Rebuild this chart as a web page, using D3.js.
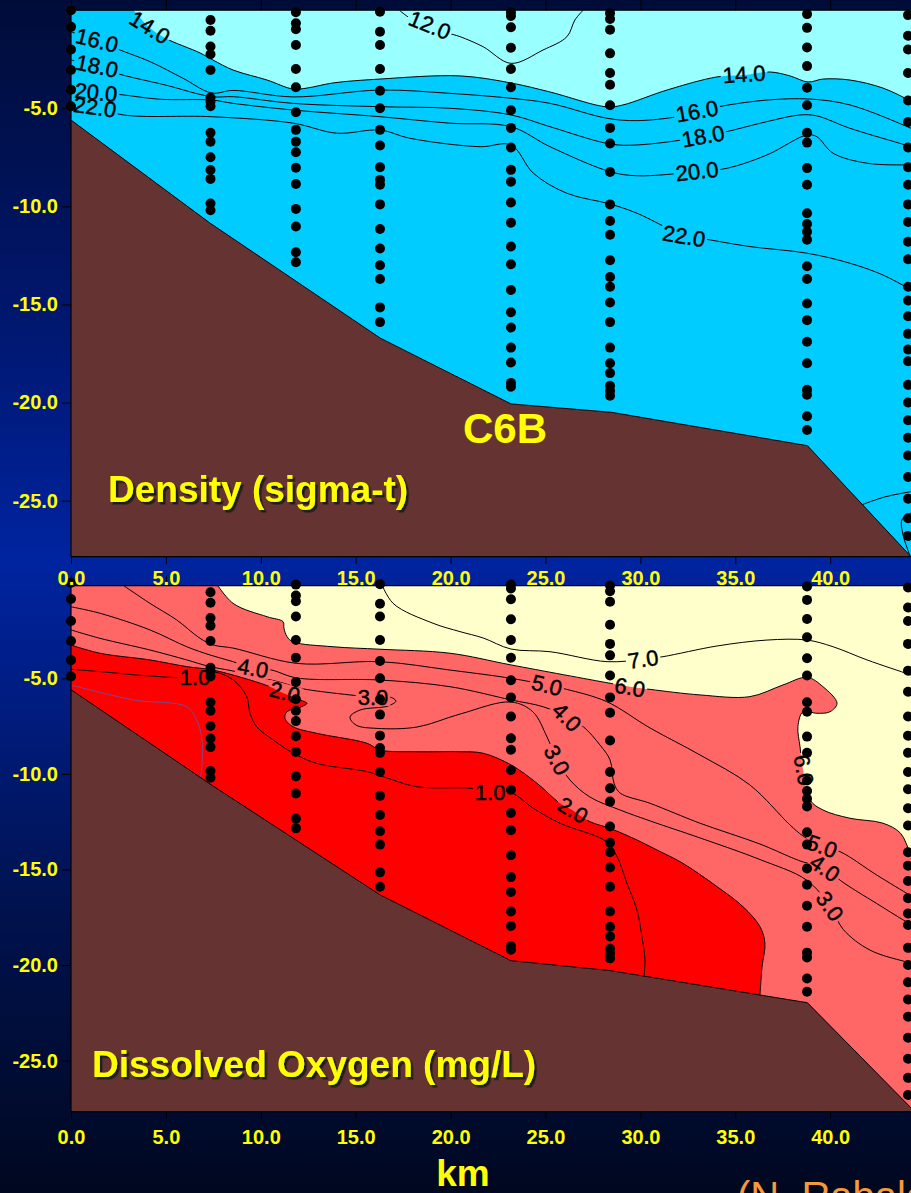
<!DOCTYPE html>
<html>
<head>
<meta charset="utf-8">
<script src="https://cdn.jsdelivr.net/npm/d3@7"></script>
<style>
  html, body { margin: 0; padding: 0; background: #000820; }
  svg { display: block; }
  text { font-family: "Liberation Sans", Arial, sans-serif; }
</style>
</head>
<body>
<svg id="chart" width="911" height="1193"></svg>
<script>
// ---------------- Data ----------------
// CTD station positions along the transect (km) and sampled depths (m)
const stationKm = [0, 7.35, 11.85, 16.28, 23.18, 28.4, 38.78, 44.1];
const stationDepths = [
  [0, 0.85, 2.0, 3.05, 4.05, 4.9],
  [0.5, 1.05, 1.85, 2.25, 3.05, 4.45, 4.65, 4.9, 6.25, 6.7, 7.5, 8.15, 8.6, 9.85, 10.2],
  [0.1, 0.67, 0.97, 1.77, 3.0, 3.93, 5.2, 6.1, 6.7, 7.24, 8.03, 8.86, 10.13, 11.03, 12.34, 12.85],
  [0.08, 1.1, 1.77, 3.0, 4.1, 5.0, 6.1, 6.9, 8.0, 8.65, 8.9, 9.9, 11.15, 12.15, 13.0, 13.7, 15.15, 15.9],
  [0.1, 0.3, 0.87, 1.91, 3.0, 3.93, 5.1, 6.0, 7.0, 8.14, 8.74, 9.8, 10.83, 12.05, 12.95, 14.26, 15.4, 16.18, 17.2, 17.96, 19.0, 19.2],
  [0.15, 0.45, 1.0, 2.2, 3.2, 3.8, 4.85, 6.0, 6.8, 8.25, 9.9, 10.75, 11.45, 12.75, 13.6, 14.1, 14.9, 15.9, 17.2, 18.0, 18.5, 19.15, 19.4, 19.65],
  [0.2, 0.9, 1.9, 2.85, 3.95, 4.85, 6.25, 6.75, 8.05, 8.9, 10.35, 10.9, 11.3, 11.7, 13.05, 13.7, 14.95, 15.8, 16.9, 18.0, 19.35, 19.6, 20.7, 21.4],
  [0.25, 1.3, 2.0, 3.2, 4.6, 5.7, 7.0, 8.0, 8.9, 9.9, 10.8, 11.8, 12.7, 14.1, 14.8, 15.6, 16.5, 17.3, 17.9, 19.1, 20.0, 20.9, 21.8, 22.7, 23.8, 24.9, 25.9, 26.8]
];

// Bottom profile [km, depth m]
const bathyDensity = [[0, 5.6], [7.32, 10.85], [16.3, 16.72], [23.18, 20.07], [28.48, 20.5], [38.8, 22.2], [44.26, 27.86], [46, 29.7]];
const bathyOxygen  = [[0, 5.6], [7.4, 10.58], [16.3, 16.34], [23.18, 19.77], [28.4, 20.29], [38.8, 21.97], [44.26, 27.47], [46, 29.2]];

// Density (sigma-t) isolines [km, depth m]
const sigma12 = [[17.3, 0], [17.86, 0.4], [18.9, 0.78], [19.86, 1.16], [20.5, 1.35], [21.71, 1.86], [23.18, 2.71], [24.87, 2.03], [26.13, 1.35], [26.55, 0.5], [26.98, 0]];
const sigma14 = [[3.3, 0], [4.16, 0.91], [4.95, 1.42], [6.8, 2.18], [7.48, 2.54], [8.54, 3.05], [10.33, 3.56], [11.7, 4.02], [12.43, 3.97], [13.8, 3.71], [16.28, 3.51], [20.5, 3.35], [23.18, 3.71], [25.24, 4.17], [28.24, 4.93], [29.08, 4.83], [31.4, 4.07], [34.04, 3.4], [35.51, 3.3], [36.83, 3.15], [37.88, 3.35], [38.83, 3.66], [39.62, 3.51], [41.04, 3.56], [42.78, 3.97], [44.26, 4.63], [45, 4.95]];
const sigma16 = [[0, 1.11], [1.37, 1.52], [2.48, 1.99], [4.16, 2.62], [5.9, 3.47], [7.41, 4.22], [8.54, 4.09], [11.7, 4.42], [16.28, 4.07], [19.97, 4.24], [23.18, 4.49], [25.24, 4.75], [28.24, 5.51], [29.82, 5.63], [31.93, 5.43], [32.98, 5.17], [34.35, 4.88], [36.67, 4.58], [38.94, 4.53], [41.04, 4.83], [44.26, 6.02], [45, 6.35]];
const sigma18 = [[0, 2.54], [1.37, 2.89], [2.58, 3.27], [4.95, 3.81], [7.41, 4.41], [8.55, 4.41], [11.71, 4.75], [16.28, 4.92], [19.97, 5.0], [23.18, 5.34], [25.24, 5.94], [28.4, 6.82], [29.82, 6.87], [33.3, 6.45], [34.56, 6.19], [36.67, 5.68], [38.41, 5.34], [39.3, 5.39], [41.04, 6.02], [44.26, 6.96], [45, 7.2]];
const sigma20 = [[0, 3.97], [1.32, 4.17], [2.76, 4.32], [4.69, 4.54], [7.41, 4.58], [8.55, 4.75], [11.71, 5.09], [16.28, 5.43], [19.97, 5.76], [23.18, 5.94], [25.24, 6.96], [28.4, 8.23], [29.82, 8.44], [32.98, 8.23], [34.56, 8.06], [36.67, 7.38], [38.78, 6.36], [39.3, 6.45], [40.15, 7.29], [41.94, 7.8], [44.26, 7.89], [45, 7.9]];
const sigma22 = [[0, 4.83], [1.26, 4.93], [2.76, 5.34], [7.41, 5.43], [11.71, 5.76], [14.0, 6.27], [16.28, 6.11], [17.86, 6.53], [21.55, 6.96], [23.18, 6.87], [24.36, 8.31], [26.12, 9.33], [28.4, 9.88], [29.82, 10.35], [32.26, 11.46], [33.67, 11.71], [35.77, 12.05], [38.79, 12.39], [41.04, 12.9], [42.78, 13.5], [44.26, 14.26], [45, 14.7]];
const sigma24 = [[41.7, 25.2], [42.89, 24.81], [44.26, 24.54], [45, 24.4]];
const sigma24b = [[44.2, 27.8], [43.84, 26.75], [43.78, 25.98], [44.26, 25.63], [45, 25.5]];

// Dissolved oxygen isolines (mg/L) [km, depth m]
const ox7 = [[16.3, -0.1], [16.97, 1.08], [19.07, 2.12], [20.5, 2.56], [21.71, 2.89], [23.18, 3.47], [25.24, 3.61], [28.24, 4.13], [30.14, 4.01], [31.19, 3.87], [34.04, 3.31], [36.67, 3.0], [38.78, 3.0], [40.15, 3.35], [41.94, 4.04], [44.26, 4.83], [45, 5.1]];
const ox6 = [[7.5, -0.2], [8.54, 1.08], [10.33, 1.78], [11.17, 2.04], [11.22, 2.38], [11.38, 2.82], [11.7, 3.09], [13.8, 3.35], [16.28, 3.48], [19.97, 3.69], [23.18, 4.3], [28.4, 5.26], [29.45, 5.44], [30.51, 5.58], [33.14, 5.87], [35.77, 5.96], [37.51, 5.35], [38.78, 4.95], [39.62, 5.44], [40.36, 6.31], [39.99, 6.75], [39.3, 6.83], [38.57, 6.75], [38.3, 7.53], [38.41, 8.58], [38.57, 9.8], [38.94, 11.37], [39.62, 11.89], [41.04, 12.32], [42.78, 12.58], [43.7, 13.1], [44.26, 14.2], [45, 15.2]];
const ox5 = [[2.4, -0.1], [4.16, 1.08], [5.57, 1.95], [6.8, 2.91], [7.5, 3.26], [8.54, 3.42], [11.89, 4.22], [16.28, 4.13], [19.97, 4.57], [23.18, 5.0], [25.06, 5.35], [26.12, 5.58], [28.22, 6.22], [30.51, 7.6], [33.14, 9.01], [35.77, 10.58], [37.88, 12.67], [38.57, 13.25], [39.57, 13.8], [40.52, 14.07], [42.45, 15.29], [44.26, 16.38], [45, 16.8]];
const ox4 = [[0, 1.26], [1.53, 1.6], [4.16, 2.47], [6.1, 3.35], [7.32, 3.78], [8.54, 4.13], [9.61, 4.48], [10.57, 4.57], [11.89, 4.98], [16.28, 5.09], [19.97, 5.44], [23.18, 6.13], [24.88, 6.49], [26.12, 7.01], [26.99, 7.53], [27.87, 8.49], [28.4, 9.27], [28.61, 10.49], [28.93, 11.0], [30.51, 11.54], [33.14, 12.58], [36.3, 13.67], [38.58, 14.61], [39.72, 14.87], [40.52, 15.56], [42.45, 16.78], [44.26, 17.87], [45, 18.2]];
const ox3 = [[0, 2.47], [1.53, 2.91], [4.16, 3.52], [6.1, 4.04], [7.32, 4.39], [8.54, 4.62], [11.17, 5.25], [12.07, 5.52], [14.7, 5.87], [15.91, 5.98], [16.81, 5.98], [17.12, 6.19], [16.7, 6.45], [15.23, 6.66], [14.7, 7.03], [15.02, 7.45], [16.12, 7.62], [18.23, 7.55], [20.5, 6.87], [23.18, 6.24], [24.34, 6.76], [25.08, 8.07], [25.61, 9.27], [26.29, 10.32], [27.34, 11.21], [28.93, 11.89], [30.51, 12.46], [33.14, 13.35], [36.3, 14.48], [38.76, 15.56], [39.99, 16.91], [40.69, 18.14], [42.1, 19.22], [44.26, 19.9], [45, 20.1]];
const ox2 = [[0, 3.26], [1.53, 3.69], [4.16, 4.04], [6.1, 4.39], [7.48, 4.57], [9.43, 5.09], [10.48, 5.44], [11.17, 5.77], [12.07, 6.13], [12.43, 6.31], [12.07, 6.52], [11.38, 6.75], [11.27, 7.09], [11.7, 7.53], [12.96, 7.88], [15.6, 8.4], [16.28, 8.75], [18.23, 8.84], [20.5, 8.84], [21.71, 8.92], [23.18, 9.53], [24.55, 10.49], [25.76, 11.54], [26.4, 11.89], [27.34, 12.5], [28.4, 12.85], [29.82, 13.46], [30.87, 13.98], [32.24, 14.68], [34.04, 15.9], [35.41, 16.95], [36.3, 17.99], [36.56, 18.86], [36.41, 20.08], [36.3, 21.56]];
const ox1 = [[0, 4.53], [1.53, 4.65], [4.16, 4.88], [6.53, 4.95], [7.48, 4.67], [8.55, 5.09], [9.26, 5.96], [9.43, 6.83], [9.78, 7.53], [10.66, 8.23], [11.71, 8.92], [12.94, 9.45], [15.58, 9.88], [16.45, 10.15], [18.21, 10.67], [21.02, 10.75], [22.08, 10.93], [23.18, 10.98], [24.36, 11.8], [25.76, 12.58], [28.22, 13.55], [28.77, 14.33], [29.29, 15.72], [29.82, 17.12], [30.08, 18.51], [30.24, 19.73], [30.19, 20.57]];
const oxFaint = [[0, 5.35], [3.28, 6.13], [6.1, 6.49], [6.62, 7.18], [6.88, 8.05], [6.88, 9.8], [6.8, 10.2]];

// Isoline labels: [value, km, depth]
const sigmaLabels = [[14, 4.16, 0.86], [12, 18.91, 0.75], [16, 1.37, 1.52], [18, 1.37, 2.84], [20, 1.32, 4.17], [22, 1.26, 4.93],
                     [14, 35.46, 3.25], [16, 32.98, 5.14], [18, 33.3, 6.41], [20, 32.98, 8.2], [22, 32.3, 11.51]];
const sigmaLabelAngles = [32, 22, 14, 12, 6, 8, -4, -10, -10, -6, 10];
const oxLabels = [[1, 6.53, 4.93], [4, 9.59, 4.46], [2, 11.27, 5.72], [3, 15.91, 5.98], [7, 30.14, 3.99], [6, 29.45, 5.46],
                  [5, 25.08, 5.35], [4, 26.13, 7.02], [3, 25.61, 9.27], [1, 22.08, 10.95], [2, 26.45, 11.89],
                  [6, 38.62, 9.8], [5, 39.57, 13.77], [4, 39.73, 14.92], [3, 39.99, 16.91]];
const oxLabelAngles = [0, 10, 15, 0, -8, 10, 14, 45, 62, 0, 32, 80, 20, 35, 55];

const kmTicks = [0, 5, 10, 15, 20, 25, 30, 35, 40];
const depthTicks = [5, 10, 15, 20, 25];

// ---------------- Drawing ----------------
const W = 911, H = 1193;
const svg = d3.select("#chart");
const defs = svg.append("defs");

const bg = defs.append("linearGradient").attr("id", "bg")
  .attr("x1", 0).attr("y1", 0).attr("x2", 0).attr("y2", 1);
[[0, "#000c38"], [0.25, "#00166a"], [0.47, "#0024a0"], [0.56, "#001e88"], [0.76, "#00124f"], [1, "#000820"]]
  .forEach(([o, c]) => bg.append("stop").attr("offset", o).attr("stop-color", c));
svg.append("rect").attr("width", W).attr("height", H).attr("fill", "url(#bg)");

// hard drop shadow for the panel titles
defs.append("filter").attr("id", "titleShadow").attr("x", "-5%").attr("y", "-20%")
  .attr("width", "115%").attr("height", "150%")
  .append("feDropShadow").attr("dx", 2.5).attr("dy", 2.5).attr("stdDeviation", 0.3)
  .attr("flood-color", "#1e1e1e").attr("flood-opacity", 1);

const x = d3.scaleLinear().domain([0, 45]).range([71, 71 + 45 * 18.98]);

function styleAxis(g) {
  g.select(".domain").remove();
  g.selectAll(".tick line").attr("stroke", "#000");
  g.selectAll(".tick text").attr("fill", "#ffff00").attr("font-size", 20)
    .attr("font-weight", "bold").attr("font-family", "'Liberation Sans', Arial, sans-serif");
}

function drawPanel(cfg) {
  const y = d3.scaleLinear().domain([0, cfg.maxDepth]).range([cfg.y0, cfg.y1]);
  const smooth = d3.line().x(d => x(d[0])).y(d => y(d[1])).curve(d3.curveCatmullRom.alpha(0.5));
  const straight = d3.line().x(d => x(d[0])).y(d => y(d[1]));

  const clipId = cfg.id + "Clip";
  defs.append("clipPath").attr("id", clipId).append("rect")
    .attr("x", x(0)).attr("y", cfg.top).attr("width", W).attr("height", cfg.y1 - cfg.top);
  const body = svg.append("g").attr("clip-path", `url(#${clipId})`);

  // water and filled classes
  body.append("rect").attr("x", x(0)).attr("y", cfg.top).attr("width", W)
    .attr("height", cfg.y1 - cfg.top).attr("fill", cfg.water);
  cfg.regions.forEach(r => {
    const d = smooth(r.edge) + r.close.map(p => `L${x(p[0])},${y(p[1])}`).join("") + "Z";
    body.append("path").attr("d", d).attr("fill", r.color);
  });

  // isolines, broken where labels sit
  const maskId = cfg.id + "Mask";
  const mask = defs.append("mask").attr("id", maskId).attr("maskUnits", "userSpaceOnUse")
    .attr("x", 0).attr("y", 0).attr("width", W).attr("height", H);
  mask.append("rect").attr("width", W).attr("height", H).attr("fill", "white");
  const lines = body.append("g").attr("mask", `url(#${maskId})`);
  cfg.contours.forEach(c => lines.append("path").attr("d", smooth(c.pts))
    .attr("fill", "none").attr("stroke", c.color || "#000").attr("stroke-width", 1));

  // sea floor
  const b = cfg.bathy;
  const floorD = straight(b) + `L${x(46)},${cfg.y1 + 30}L${x(0) - 6},${cfg.y1 + 30}L${x(0) - 6},${y(b[0][1])}Z`;
  body.append("path").attr("d", floorD).attr("fill", "#663333").attr("stroke", "#000").attr("stroke-width", 1);

  // isoline labels
  cfg.labels.forEach(([v, km, dep], i) => {
    const tr = `translate(${x(km)},${y(dep)}) rotate(${cfg.angles[i]})`;
    const t = body.append("text").attr("transform", tr).attr("text-anchor", "middle")
      .attr("dy", "0.36em").attr("font-size", 22).attr("fill", "#000")
      .attr("stroke", "#000").attr("stroke-width", 0.45).text(v.toFixed(1));
    const bb = t.node().getBBox();
    mask.append("rect").attr("transform", tr).attr("x", bb.x - 2).attr("y", bb.y + 4)
      .attr("width", bb.width + 4).attr("height", bb.height - 8).attr("fill", "black");
  });

  // frame
  const frame = svg.append("g").attr("stroke", "#000").attr("stroke-width", 1.2);
  frame.append("line").attr("x1", x(0)).attr("x2", W).attr("y1", cfg.top).attr("y2", cfg.top);
  frame.append("line").attr("x1", x(0)).attr("x2", W).attr("y1", cfg.y1).attr("y2", cfg.y1);
  frame.append("line").attr("x1", x(0)).attr("x2", x(0)).attr("y1", cfg.top).attr("y2", cfg.y1);

  // axes
  svg.append("g").attr("transform", `translate(${x(0)},0)`)
    .call(d3.axisLeft(y).tickValues(depthTicks).tickSize(9).tickPadding(4)
      .tickFormat(d => "-" + d.toFixed(1)))
    .call(styleAxis);
  svg.append("g").attr("transform", `translate(0,${cfg.top})`)
    .call(d3.axisTop(x).tickValues(kmTicks).tickSize(10).tickFormat(""))
    .call(styleAxis);
  const bottomAxis = svg.append("g").attr("transform", `translate(0,${cfg.y1})`)
    .call(d3.axisBottom(x).tickValues(kmTicks).tickSize(7).tickPadding(cfg.tickPad)
      .tickFormat(d => d.toFixed(1)))
    .call(styleAxis);

  // stations
  const dots = svg.append("g");
  stationKm.forEach((km, i) => {
    dots.selectAll(null).data(stationDepths[i]).enter().append("circle")
      .attr("cx", x(km)).attr("cy", d => y(d)).attr("r", 5).attr("fill", "#000");
  });
  return { y, bottomAxis };
}

// Lower panel: dissolved oxygen
const oxPanel = drawPanel({
  id: "ox", maxDepth: 27.67, y0: 582.7, y1: 1111.7, top: 585.7, tickPad: 11,
  water: "#ff6666",
  regions: [
    { edge: ox6, close: [[46, 15.2], [46, -1], [7.5, -1]], color: "#ffffcc" },
    { edge: ox2, close: [[36.3, 30], [-1, 30], [-1, 3.26]], color: "#ff0000" }
  ],
  contours: [
    { pts: ox7 }, { pts: ox6 }, { pts: ox5 }, { pts: ox4 }, { pts: ox3 }, { pts: ox2 }, { pts: ox1 },
    { pts: oxFaint, color: "#7b4a8a" }
  ],
  bathy: bathyOxygen, labels: oxLabels, angles: oxLabelAngles
});

// Upper panel: density
const sigPanel = drawPanel({
  id: "sig", maxDepth: 27.86, y0: 10.2, y1: 556.7, top: 10.2, tickPad: 7,
  water: "#00ccff",
  regions: [
    { edge: sigma14, close: [[46, 4.95], [46, -1], [3.3, -1]], color: "#99ffff" }
  ],
  contours: [
    { pts: sigma12 }, { pts: sigma14 }, { pts: sigma16 }, { pts: sigma18 }, { pts: sigma20 }, { pts: sigma22 },
    { pts: sigma24 }, { pts: sigma24b }
  ],
  bathy: bathyDensity, labels: sigmaLabels, angles: sigmaLabelAngles
});
sigPanel.bottomAxis.raise();

// titles
function title(txt, tx, ty, size, anchor, shadow) {
  const t = svg.append("text").attr("x", tx).attr("y", ty).attr("font-size", size)
    .attr("font-weight", "bold").attr("text-anchor", anchor).attr("fill", "#ffff00").text(txt);
  if (shadow) t.attr("filter", "url(#titleShadow)");
}
title("Density (sigma-t)", 108, 502, 37, "start", true);
title("C6B", 505, 443, 42, "middle", false);
title("Dissolved Oxygen (mg/L)", 92, 1077, 37, "start", true);
title("km", 463, 1186, 37, "middle", false);

svg.append("text").attr("x", 737).attr("y", 1210).attr("font-size", 40)
  .attr("fill", "#f59a3b").text("(N. Rabalais)");
</script>
</body>
</html>
